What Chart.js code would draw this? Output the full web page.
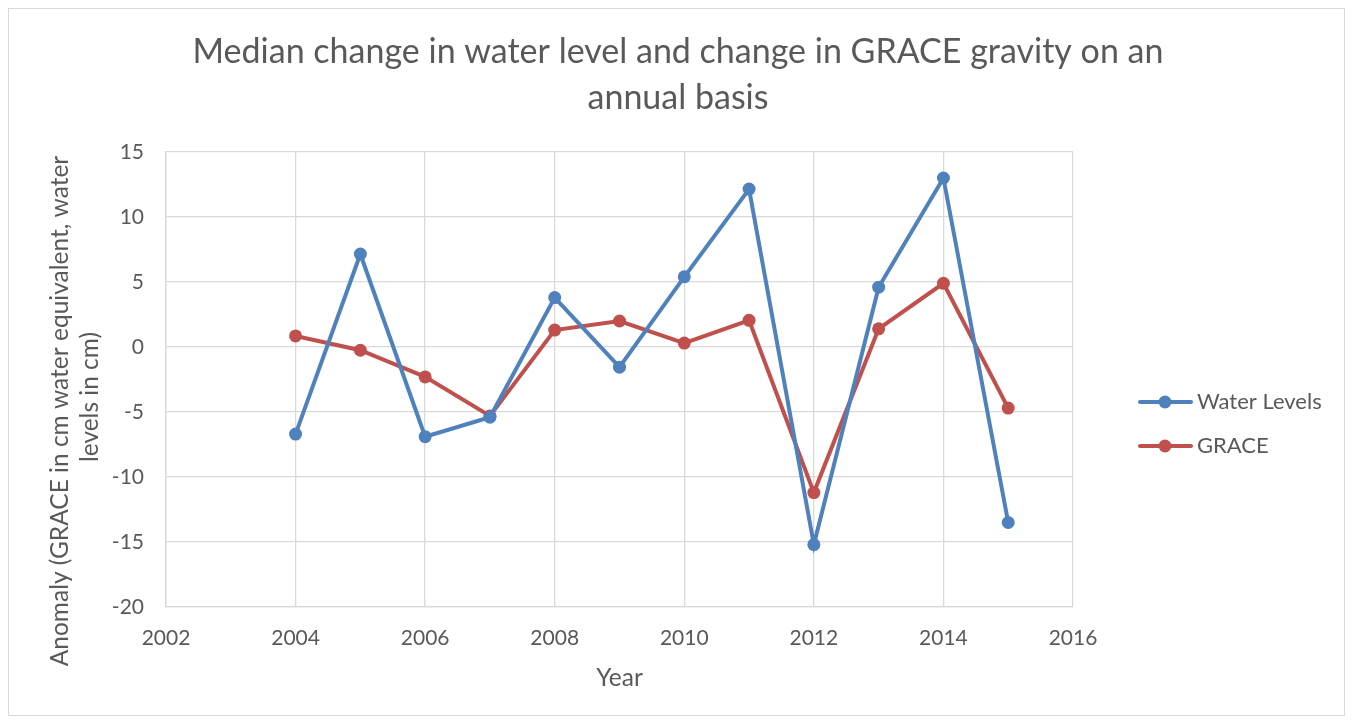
<!DOCTYPE html>
<html>
<head>
<meta charset="utf-8"/>
<style>
  html,body{margin:0;padding:0;background:#fff;}
  #wrap{width:1352px;height:723px;position:relative;}
</style>
</head>
<body>
<div id="wrap"><canvas id="c" width="1352" height="723"></canvas></div>
<script src="https://cdn.jsdelivr.net/npm/chart.js@4.4.0/dist/chart.umd.min.js"></script>
<script>
const FONT = "Lato, 'Open Sans', sans-serif";
const GREY = "#595959";

// data
const years       = [2004, 2005, 2006, 2007, 2008, 2009, 2010, 2011, 2012, 2013, 2014, 2015];
const waterLevels = [-6.7, 7.15, -6.9, -5.4, 3.8, -1.55, 5.4, 12.15, -15.2, 4.6, 13.0, -13.5];
const grace       = [0.85, -0.25, -2.3, -5.3, 1.3, 2.0, 0.3, 2.05, -11.2, 1.4, 4.9, -4.7];
const xTicks      = [2002, 2004, 2006, 2008, 2010, 2012, 2014, 2016];
const yTicks      = [-20, -15, -10, -5, 0, 5, 10, 15];
const titleLines  = ["Median change in water level and change in GRACE gravity on an", "annual basis"];
const yTitleLines = ["Anomaly (GRACE in cm water equivalent, water", "levels in cm)"];

const BLUE = "#4F81BD", RED = "#C0504D";

const pts = (vals) => years.map((y, i) => ({x: y, y: vals[i]}));

// title centred on the whole canvas, y title, legend on the right, thin frame
const extras = {
  id: "extras",
  afterDraw(chart) {
    const ctx = chart.ctx;
    ctx.save();
    ctx.strokeStyle = "#d9d9d9";
    ctx.lineWidth = 1;
    ctx.strokeRect(8.5, 8.5, 1336, 707);

    ctx.fillStyle = GREY;
    ctx.textAlign = "center";
    ctx.textBaseline = "middle";
    ctx.font = "34px " + FONT;
    titleLines.forEach((t, i) => ctx.fillText(t, 678, 52 + i * 46));

    // rotated y axis title, as Excel places it
    ctx.font = "24.5px " + FONT;
    [[60, 411], [90, 397]].forEach(([x, y], i) => {
      ctx.save();
      ctx.translate(x, y);
      ctx.rotate(-Math.PI / 2);
      ctx.fillText(yTitleLines[i], 0, 0);
      ctx.restore();
    });

    const items = [["Water Levels", BLUE, 402], ["GRACE", RED, 446]];
    ctx.font = "22px " + FONT;
    ctx.textAlign = "left";
    items.forEach(([label, col, y]) => {
      ctx.strokeStyle = col;
      ctx.lineWidth = 4;
      ctx.lineCap = "round";
      ctx.beginPath(); ctx.moveTo(1140, y); ctx.lineTo(1191, y); ctx.stroke();
      ctx.fillStyle = col;
      ctx.beginPath(); ctx.arc(1165, y, 6.5, 0, Math.PI * 2); ctx.fill();
      ctx.fillStyle = GREY;
      ctx.fillText(label, 1197, y);
    });
    ctx.restore();
  }
};

new Chart(document.getElementById("c"), {
  type: "scatter",
  data: {
    datasets: [
      { label: "Water Levels", data: pts(waterLevels), showLine: true,
        borderColor: BLUE, backgroundColor: BLUE, borderWidth: 4,
        pointRadius: 6.5, pointHoverRadius: 6.5, pointBorderWidth: 0 },
      { label: "GRACE", data: pts(grace), showLine: true,
        borderColor: RED, backgroundColor: RED, borderWidth: 4,
        pointRadius: 6.5, pointHoverRadius: 6.5, pointBorderWidth: 0 }
    ]
  },
  options: {
    responsive: false, animation: false,
    layout: { padding: { left: 0, right: 279, top: 152, bottom: 0 } },
    plugins: {
      legend: { display: false },
      tooltip: { enabled: false },
      title: { display: false }
    },
    scales: {
      x: {
        type: "linear", min: 2002, max: 2016,
        afterBuildTicks: (ax) => { ax.ticks = xTicks.map(v => ({ value: v })); },
        afterFit: (ax) => { ax.height = 116; },
        grid: { color: "#d9d9d9", lineWidth: 1.3, drawTicks: false },
        border: { color: "#d9d9d9", width: 1.3 },
        ticks: { color: GREY, font: { family: FONT, size: 21 }, padding: 19, callback: v => String(v) },
        title: { display: true, text: "Year", color: GREY,
                 font: { family: FONT, size: 24.5, lineHeight: 1.25 }, padding: { top: 0, bottom: 30 } }
      },
      y: {
        min: -20, max: 15,
        afterBuildTicks: (ax) => { ax.ticks = yTicks.map(v => ({ value: v })); },
        afterFit: (ax) => { ax.width = 166; },
        grid: { color: "#d9d9d9", lineWidth: 1.3, drawTicks: false },
        border: { color: "#d9d9d9", width: 1.3 },
        ticks: { color: GREY, font: { family: FONT, size: 21 }, padding: 22 },
        title: { display: false }
      }
    }
  },
  plugins: [extras]
});
</script>
</body>
</html>
